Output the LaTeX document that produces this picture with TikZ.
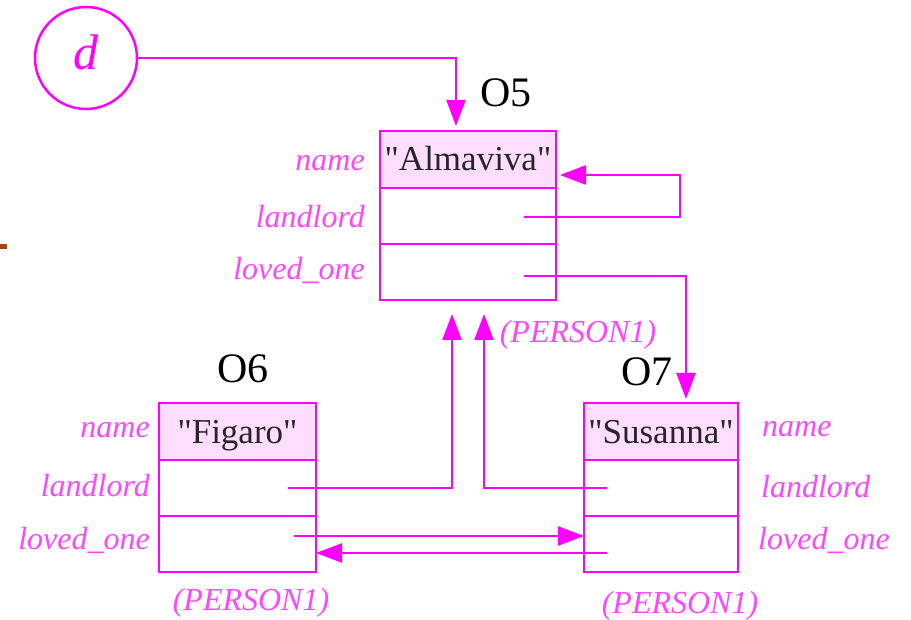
\documentclass[tikz,border=0pt]{standalone}
\usepackage{fontspec}
\setmainfont{Liberation Serif}
\newfontfamily\valfont{Liberation Serif}
\usetikzlibrary{arrows.meta}
\definecolor{mg}{RGB}{255,0,255}
\definecolor{hdr}{RGB}{255,221,255}
\definecolor{lbl}{RGB}{255,70,255}
\definecolor{tick}{RGB}{170,64,16}
\begin{document}
\begin{tikzpicture}[x=1pt,y=-1pt,
  cell/.style={draw=mg,line width=2.5pt,minimum width=#1,minimum height=56pt,
    inner sep=0pt,outer sep=0pt,anchor=north west},
  hcell/.style={cell=#1,fill=hdr,minimum height=57pt,text=black!85,
    font=\fontsize{35}{35}\valfont,text height=25pt,text depth=2pt},
  lab/.style={text=lbl,font=\fontsize{32}{32}\selectfont\itshape,inner sep=0pt},
  oid/.style={text=black,font=\fontsize{42}{42}\selectfont,inner sep=0pt,anchor=base},
  conn/.style={draw=mg,line width=2.5pt,-{Triangle[length=26pt,width=19pt]}},
  ptr/.style={draw=mg,line width=2.5pt}]
\useasboundingbox (0,0) rectangle (911,620);
\fill[white] (0,0) rectangle (911,620);
% stray mark at left edge
\fill[tick] (0,244) rectangle (7,249);
% variable d
\node[draw=mg,line width=2.5pt,circle,minimum size=102pt,inner sep=0pt,
  text=mg,font=\fontsize{50}{50}\selectfont\itshape,text depth=12pt] (d) at (86,58) {d};
% object O5
\node[hcell=176pt] (h5) at (380,131) {"Almaviva"};
\node[cell=176pt] (r5a) at (h5.south west) {};
\node[cell=176pt] (r5b) at (r5a.south west) {};
\node[oid] (o5) at (506,107) {O5};
\node[lab,anchor=base east] (n5) at (365,171) {name};
\node[lab,anchor=base east] (l5) at (365,228) {landlord};
\node[lab,anchor=base east] (v5) at (365,280) {loved\_one};
\node[lab,anchor=base] (t5) at (578,343) {(PERSON1)};
% object O6
\node[hcell=157pt] (h6) at (159,403) {"Figaro"};
\node[cell=157pt] (r6a) at (h6.south west) {};
\node[cell=157pt] (r6b) at (r6a.south west) {};
\node[oid] (o6) at (243,383) {O6};
\node[lab,anchor=base east] (n6) at (150,438) {name};
\node[lab,anchor=base east] (l6) at (150,496) {landlord};
\node[lab,anchor=base east] (v6) at (150,549) {loved\_one};
\node[lab,anchor=base] (t6) at (251,610) {(PERSON1)};
% object O7
\node[hcell=154pt] (h7) at (584,403) {"Susanna"};
\node[cell=154pt] (r7a) at (h7.south west) {};
\node[cell=154pt] (r7b) at (r7a.south west) {};
\node[oid] (o7) at (647,386) {O7};
\node[lab,anchor=base west] (n7) at (762,437) {name};
\node[lab,anchor=base west] (l7) at (761,497) {landlord};
\node[lab,anchor=base west] (v7) at (758,549) {loved\_one};
\node[lab,anchor=base] (t7) at (680,613) {(PERSON1)};
% pointer origins
\coordinate (p5l) at (524,217);
\coordinate (p5o) at (524,276);
\coordinate (p6l) at (288,488);
\coordinate (p6o) at (294,536);
\coordinate (p7l) at (607,488);
\coordinate (p7o) at (607,553);
% connectors
\draw[conn,shorten >=5pt] (d.east) -| ([xshift=-12pt]h5.north);
\draw[conn,shorten >=4pt] (p5l) -- (680,217) |- (h5.east |- 0,175);
\draw[conn,shorten >=4pt] (p5o) -| ([xshift=25pt]h7.north);
\draw[conn,shorten >=14pt] (p6l) -| ([xshift=-16pt]r5b.south);
\draw[conn,shorten >=14pt] (p7l) -| ([xshift=16pt]r5b.south);
\draw[conn] (p6o) -- (r7b.west |- p6o);
\draw[conn] (p7o) -- (r6b.east |- p7o);
\end{tikzpicture}
\end{document}
